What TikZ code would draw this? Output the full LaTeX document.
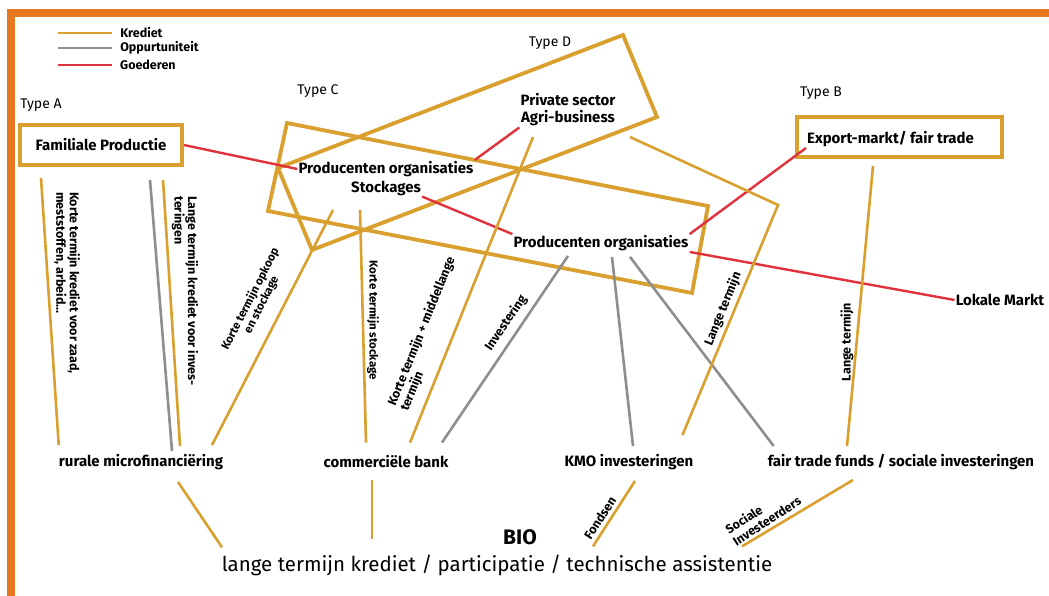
\documentclass[tikz,border=0pt]{standalone}
\usepackage{fontspec}
\setmainfont{Fira Sans}
\usetikzlibrary{calc}
\definecolor{goud}{HTML}{D9A030}
\definecolor{rood}{HTML}{E0323C}
\definecolor{grijs}{HTML}{8E8E8E}
\definecolor{oranje}{HTML}{E87722}
\tikzset{krediet/.style={draw=goud,line width=2.6pt},kans/.style={draw=grijs,line width=2.6pt},goed/.style={draw=rood,line width=2.4pt},
  kader/.style={draw=goud,line width=3.8pt},lbl/.style={font=\bfseries\fontsize{15}{17}\selectfont,inner sep=1pt},
  uitleg/.style={font=\bfseries\fontsize{12.5}{13.5}\selectfont,inner sep=0pt,align=left},typ/.style={font=\fontsize{14}{16}\selectfont},
  leg/.style={right,xshift=7pt,font=\bfseries\fontsize{12.5}{13}\selectfont,inner sep=0pt}}

\begin{document}
\begin{tikzpicture}[x=1pt,y=-1pt]
\useasboundingbox (0,0) rectangle (1049,596);
\fill[oranje] (7,9) rectangle (1049,17);\fill[oranje] (7,9) rectangle (15,596);
% legenda
\draw[krediet] (58,33)--(112,33) node[leg]{Krediet};
\draw[kans] (58,48)--(112,48) node[leg]{Oppurtuniteit};
\draw[goed] (58,65)--(112,65) node[leg]{Goederen};
\node[typ] (typA) at (41,105) {Type A};\node[typ] (typC) at (318,91) {Type C};
\node[typ] (typD) at (550,43) {Type D};\node[typ] (typB) at (821,93) {Type B};
% kaders
\node[kader,lbl,minimum width=162pt,minimum height=40pt] (fam) at (101,145) {Familiale Productie};
\node[kader,minimum width=205pt,minimum height=40pt] (exbox) at (899.5,137) {};
\node[lbl,anchor=west] (export) at (806,139) {Export-markt/ fair trade};
\draw[kader] (287,123)--(708,206)--(692,293)--(268,211)--cycle;
\draw[kader] (278,168)--(623,35)--(657,117)--(312,250)--cycle;
\node[lbl] (po1) at (386,169) {Producenten organisaties};
\node[lbl] (stock) at (386,188) {Stockages};
\node[lbl,align=center] (priv) at (568,110) {Private sector\\Agri-business};
\node[lbl] (po2) at (601,243) {Producenten organisaties};
\node[lbl] (lokaal) at (1000,300) {Lokale Markt};
\node[lbl] (rmf) at (141,462) {rurale microfinanciëring};
\node[lbl] (cbank) at (386,462) {commerciële bank};
\node[lbl] (kmo) at (629,462) {KMO investeringen};
\node[lbl] (ftf) at (901,462) {fair trade funds / sociale investeringen};
\node[font=\bfseries\fontsize{21}{23}\selectfont,inner sep=1pt] (bio) at (520,537) {BIO};
\node[font=\fontsize{20.5}{23}\selectfont,inner sep=1pt] (lt) at (497,565) {lange termijn krediet / participatie / technische assistentie};
% goederen
\draw[goed] (fam.east)--(po1.west);\draw[goed] (priv.south west)--(po1.north east);
\draw[goed] (stock.south east)--(po2.north west);\draw[goed] (po2.north east)--(export.south west);
\draw[goed] (po2.south east)--(lokaal.west);
% krediet en oppurtuniteit
\coordinate (zaad) at (41,178);\coordinate (mfg) at (150,180);\coordinate (inves) at (163,180);
\coordinate (opkoop) at (333,210);\coordinate (stockT) at (360,210);\coordinate (midT) at (533,137);
\coordinate (langK) at (630,137);\coordinate (knik) at (778,205);\coordinate (exT) at (873,166);
\draw[krediet] (zaad)--([xshift=1pt,yshift=8pt]rmf.north west);
\draw[kans] (mfg)--([xshift=31pt,yshift=2pt]rmf.north);
\draw[krediet] (inves)--([xshift=39pt,yshift=7pt]rmf.north);
\draw[krediet] (opkoop)--([xshift=71pt,yshift=8pt]rmf.north);
\draw[krediet] (stockT)--([xshift=-20pt,yshift=12pt]cbank.north);
\draw[krediet] (midT)--([xshift=24pt,yshift=12pt]cbank.north);
\draw[kans] ([xshift=-33pt,yshift=-4pt]po2.south)--([xshift=56pt,yshift=12pt]cbank.north);
\draw[kans] ([xshift=11pt,yshift=-5pt]po2.south)--([xshift=4pt,yshift=7pt]kmo.north);
\draw[kans] ([xshift=29pt,yshift=-5pt]po2.south)--([xshift=7pt,yshift=7pt]ftf.north west);
\draw[krediet] (langK)--(knik)--([xshift=-12pt,yshift=18pt]kmo.north east);
\draw[krediet] (exT)--([xshift=-54pt,yshift=7pt]ftf.north);
\draw[krediet] ([xshift=37pt,yshift=-11pt]rmf.south)--([xshift=-275pt,yshift=6pt]lt.north);
\draw[krediet] ([xshift=-14pt,yshift=-11pt]cbank.south)--([xshift=-125pt,yshift=14pt]lt.north);
\draw[krediet] ([xshift=6pt,yshift=-10pt]kmo.south)--([xshift=96pt,yshift=7pt]lt.north);
\draw[krediet] ([xshift=-48pt,yshift=-9pt]ftf.south)--([xshift=245pt,yshift=7pt]lt.north);
% uitleg bij de lijnen
\node[uitleg,rotate=-90] (tzaad) at (67,283) {Korte termijn krediet voor zaad,\\meststoffen, arbeid...};
\node[uitleg,rotate=-90] (tinves) at (185,291) {Lange termijn krediet voor inves-\\teringen};
\node[uitleg,rotate=63,align=center,font=\bfseries\fontsize{11.5}{12.5}\selectfont] (topkoop) at (256,302) {Korte termijn opkoop\\en stockage};
\node[uitleg,rotate=-90,font=\bfseries\fontsize{11.5}{13}\selectfont] (tstock) at (373,320) {Korte termijn stockage};
\node[uitleg,rotate=68] (tmid) at (428,334) {Korte termijn + middellange\\termijn};
\node[uitleg,rotate=56] (tinv) at (506,323) {Investering};
\node[uitleg,rotate=68] (tlang) at (723,309) {Lange termijn};
\node[uitleg,rotate=90] (tlang2) at (847,342) {Lange termijn};
\node[uitleg,rotate=57] (tfonds) at (600,518) {Fondsen};
\node[uitleg,rotate=33] (tsoc) at (763,515) {Sociale\\Investeerders};
\end{tikzpicture}
\end{document}
